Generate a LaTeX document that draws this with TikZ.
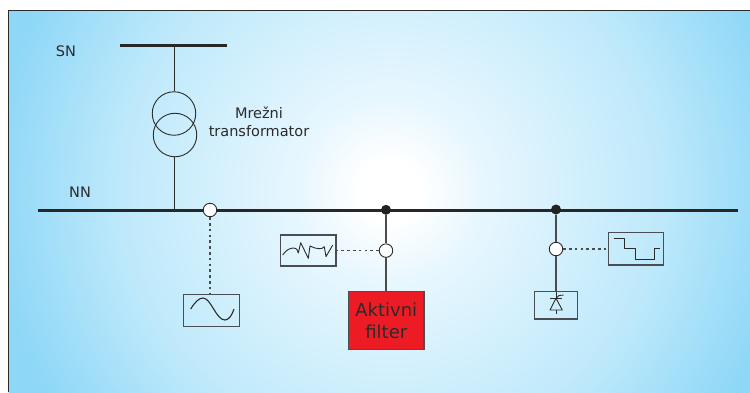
\documentclass[tikz,border=0pt]{standalone}
\usepackage{fontspec}
\setmainfont{DejaVu Sans}
\definecolor{ink}{HTML}{2B2B2B}
\definecolor{boxedge}{HTML}{4A4E52}
\definecolor{filterred}{HTML}{ED1C24}
\definecolor{skyA}{HTML}{8ED7F7}
\definecolor{skyB}{HTML}{BEE9FB}
\definecolor{skyC}{HTML}{E8F7FE}
\pgfdeclareradialshading{skyglow}{\pgfpointorigin}{%
  color(0bp)=(white);
  color(1.5bp)=(white);
  color(4.5bp)=(skyC);
  color(13.5bp)=(skyB);
  color(20bp)=(skyA);
  color(50bp)=(skyA)}
\tikzset{
  x=1pt,y=-1pt,
  bus/.style={line width=3pt,draw=ink!90!black},
  wire/.style={line width=1.3pt,draw=ink!85!white},
  thinwire/.style={line width=1pt,draw=ink},
  probe/.style={line width=1.5pt,draw=ink!85!white,dash pattern=on 2.6pt off 3.2pt},
  wave/.style={line width=0.9pt,draw=ink,line join=round},
  meter/.style={circle,draw=ink,fill=white,line width=0.9pt,minimum size=13.5pt,inner sep=0pt},
  joint/.style={circle,fill=ink!80!black,minimum size=10pt,inner sep=0pt},
  winding/.style={circle,draw=ink,line width=0.9pt,minimum size=43.5pt,inner sep=0pt},
  scope box/.style={draw=boxedge,line width=1.2pt,inner sep=0pt},
  label/.style={text=ink,font=\fontsize{14.5}{18}\selectfont,align=center,inner sep=0pt},
}
\begin{document}
\begin{tikzpicture}
\useasboundingbox (0,0) rectangle (750,392);
\begin{scope}
  \clip (8.5,10.5) rectangle (750,392);
  \shade[shading=skyglow] (390,190) circle[radius=500];
\end{scope}
\draw[line width=1pt,draw=ink] (8.5,392) -- (8.5,10.5) -- (750,10.5);

% bars
\coordinate (snL) at (120,45);
\coordinate (snR) at (227,45);
\coordinate (snT) at (174,45);
\coordinate (nnL) at (38,210);
\coordinate (nnR) at (738,210);
\coordinate (nnT) at (174,210);
\draw[bus] (snL) -- (snR);
\draw[bus] (nnL) -- (nnR);

% transformer
\node[winding] (w1) at (174,113.5) {};
\node[winding] (w2) at (175,135) {};
\draw[thinwire] (snT) -- (w1.north);
\draw[thinwire] (w2.south -| nnT) -- (nnT);

% boxes
\node[scope box,minimum width=56pt,minimum height=32pt] (bsine) at (211.3,310.3) {};
\node[scope box,minimum width=55.5pt,minimum height=31pt] (bdist) at (308.3,250.5) {};
\node[scope box,minimum width=55.5pt,minimum height=32.5pt] (bsq) at (636,248.7) {};
\node[scope box,minimum width=42.5pt,minimum height=27.5pt] (bthy) at (556,305.3) {};
\node[draw=boxedge,line width=1.2pt,fill=filterred,minimum width=75.5pt,minimum height=58pt,inner sep=0pt,
      text=ink,font=\fontsize{18}{22}\selectfont,align=center] (filt) at (386.3,320.3) {Aktivni\\filter};

% junctions and meters
\node[joint] (j1) at (386,209.8) {};
\node[joint] (j2) at (556,209.5) {};
\node[meter] (m0) at (210,210) {};
\node[meter] (m1) at (386,250.6) {};
\node[meter] (m2) at (556,249) {};

\draw[wire] (j1) -- (m1);
\draw[wire] (m1) -- (filt.north -| m1);
\draw[wire] (j2) -- (m2);
\draw[wire] (m2) -- (bthy.north -| m2);
\draw[probe] (m0) -- (bsine.north -| m0);
\draw[probe] (m1) -- (bdist.east |- m1);
\draw[probe] (m2) -- (bsq.west |- m2);

% waveforms
\draw[wave,line width=1.1pt] (190.7,309) .. controls (195,302) and (199,298) .. (203,298)
  .. controls (211,298) and (216,320) .. (225,320)
  .. controls (229,320) and (232,315) .. (234,309);
\draw[wave] (282.7,255) .. controls (286,250) and (290,248) .. (293.5,248)
  .. controls (297,248) and (298,251) .. (298.3,253) -- (300.7,242.7) -- (308.3,258.3) -- (310,246)
  .. controls (316,249) and (322,250) .. (324.3,246.7) -- (326,256.7) -- (332.7,245);
\draw[wave] (613.7,238.3) -- (624.3,238.3) -- (624.3,248.3) -- (635,248.3) -- (635,259.3)
  -- (654.3,259.3) -- (654.3,248.3) -- (660,248.3);
\draw[wave] (556,310) -- (550,310) -- (556,298.3) -- (562.3,310) -- cycle;
\draw[wave] (556,310) -- (556,314.3);
\draw[wave] (550,298.5) -- (562,298.5);
\draw[wave] (556,298.3) -- (559,295.5) -- (563.5,295);
\draw[wave] (556,292) -- (556,298.3);

% labels
\node[label] (lsn) at (66,51) {SN};
\node[label] (lnn) at (80,192.5) {NN};
\node[label] (ltr) at (259,122) {Mrežni\\transformator};
\end{tikzpicture}
\end{document}
